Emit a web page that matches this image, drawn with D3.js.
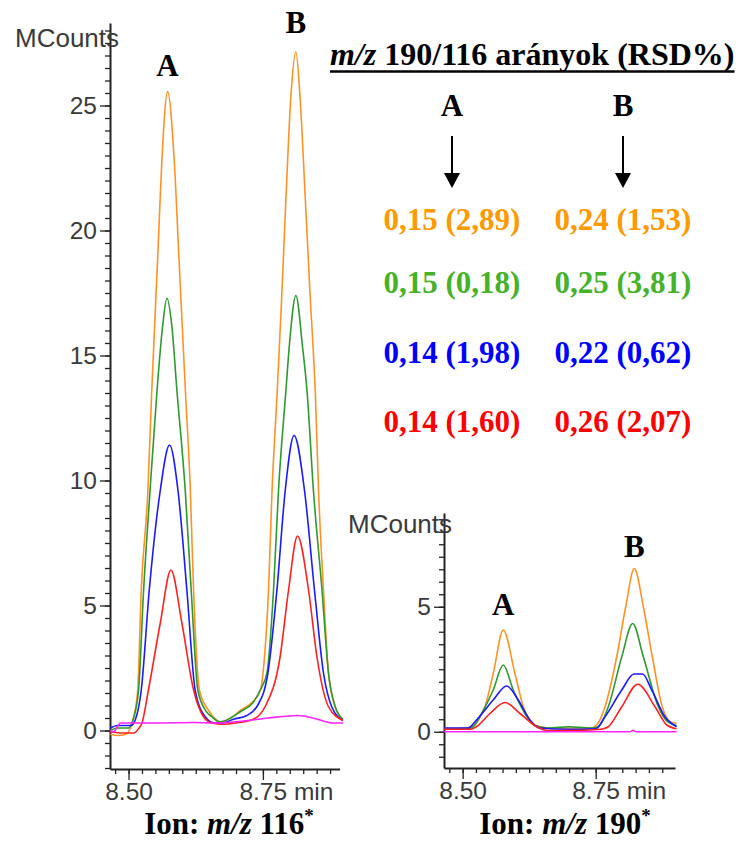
<!DOCTYPE html>
<html><head><meta charset="utf-8">
<script src="https://cdn.jsdelivr.net/npm/d3@7"></script>
<style>body{margin:0;background:#fff}svg{display:block}</style>
</head><body>
<svg id="c" width="740" height="841"></svg>
<script>
// ---------- DATA ----------
const seriesKeys = ["orange", "green", "blue", "red", "magenta"];
const lineColors = ["#FF9224", "#2E9A2E", "#1A1AFF", "#FF2020", "#FF22FF"];

// m/z 116 chromatograms: [time (min), intensity (MCounts)]
const ion116Orange = [[8.466,-0.15],[8.48,-0.2],[8.495,-0.15],[8.505,0.2],[8.509,0.5],[8.517,1.6],[8.5236,5.6],[8.536,9.6],[8.543,13.5],[8.554,18.8],[8.562,22.8],[8.5726,25.55],[8.585,22.8],[8.594,18.8],[8.606,13.5],[8.615,9.6],[8.621,5.6],[8.632,1.6],[8.649,0.8],[8.662,0.45],[8.672,0.32],[8.69,0.5],[8.708,0.8],[8.731,1.15],[8.745,1.6],[8.753,2.95],[8.7604,5.6],[8.767,9.6],[8.7765,13.5],[8.785,17.35],[8.793,21.35],[8.802,25.35],[8.8114,27.15],[8.819,25.35],[8.8287,21.35],[8.838,17.35],[8.8475,13.5],[8.8535,9.6],[8.8627,5.6],[8.872,2.3],[8.8845,0.95],[8.899,0.4]];
const ion116Green = [[8.466,0.0],[8.48,0.1],[8.50,0.1],[8.508,0.4],[8.5186,1.6],[8.528,5.6],[8.540,9.6],[8.553,13.6],[8.5633,16.15],[8.5714,17.29],[8.5807,16.15],[8.590,13.6],[8.6055,9.6],[8.6166,5.6],[8.629,1.6],[8.645,0.75],[8.655,0.55],[8.67,0.35],[8.69,0.5],[8.708,0.75],[8.731,1.1],[8.747,1.7],[8.7575,2.3],[8.7697,5.6],[8.779,9.6],[8.7928,13.6],[8.799,15.35],[8.8114,17.4],[8.8237,15.35],[8.832,13.6],[8.844,9.6],[8.86,5.6],[8.872,2.3],[8.8845,0.95],[8.899,0.45]];
const ion116Blue = [[8.466,0.1],[8.48,0.2],[8.505,0.2],[8.5125,0.42],[8.5236,1.6],[8.5385,5.6],[8.559,9.6],[8.5763,11.42],[8.592,9.6],[8.6086,5.6],[8.624,1.6],[8.6427,0.55],[8.66,0.3],[8.675,0.3],[8.695,0.45],[8.72,0.6],[8.74,1.0],[8.7593,2.3],[8.776,5.6],[8.7915,9.6],[8.808,11.8],[8.8274,9.6],[8.846,5.6],[8.8627,2.3],[8.878,0.95],[8.899,0.4]];
const ion116Red = [[8.466,-0.05],[8.49,-0.1],[8.51,-0.1],[8.518,0.05],[8.525,0.3],[8.537,1.62],[8.559,4.29],[8.5789,6.42],[8.5993,4.29],[8.621,1.62],[8.6395,0.55],[8.655,0.3],[8.675,0.25],[8.70,0.3],[8.732,0.45],[8.754,0.95],[8.782,2.95],[8.7976,5.6],[8.8144,7.78],[8.835,5.6],[8.8505,2.95],[8.872,0.95],[8.899,0.4]];
const ion116Magenta = [[8.466,0.0],[8.472,-0.05],[8.485,0.3],[8.55,0.3],[8.62,0.32],[8.66,0.3],[8.70,0.35],[8.76,0.5],[8.815,0.6],[8.85,0.46],[8.88,0.3],[8.899,0.3]];

// m/z 190 chromatograms
const ion190Orange = [[8.465,0.13],[8.50,0.15],[8.517,0.2],[8.53,0.5],[8.542,1.0],[8.5575,2.33],[8.5763,4.07],[8.5983,2.33],[8.614,1.0],[8.636,0.27],[8.66,0.15],[8.70,0.15],[8.74,0.15],[8.752,0.27],[8.7675,1.0],[8.7895,3.0],[8.8064,5.0],[8.8225,6.53],[8.8395,5.0],[8.8564,3.0],[8.875,1.0],[8.89,0.4],[8.902,0.33]];
const ion190Green = [[8.465,0.12],[8.51,0.13],[8.52,0.2],[8.5357,0.73],[8.5575,1.67],[8.5763,2.67],[8.5951,1.67],[8.617,0.73],[8.635,0.25],[8.66,0.15],[8.70,0.2],[8.74,0.15],[8.755,0.2],[8.7737,1.0],[8.799,3.0],[8.8195,4.33],[8.8395,3.0],[8.8677,1.0],[8.885,0.4],[8.902,0.25]];
const ion190Blue = [[8.465,0.15],[8.51,0.15],[8.526,0.47],[8.5575,1.27],[8.5827,1.83],[8.6045,1.27],[8.6265,0.47],[8.645,0.15],[8.70,0.1],[8.75,0.12],[8.7675,0.6],[8.799,1.67],[8.822,2.31],[8.838,2.31],[8.8553,1.67],[8.88,0.6],[8.902,0.2]];
const ion190Red = [[8.465,0.1],[8.515,0.1],[8.526,0.2],[8.5513,0.73],[8.5795,1.17],[8.6077,0.73],[8.639,0.2],[8.66,0.05],[8.70,0.05],[8.76,0.1],[8.7737,0.2],[8.799,1.0],[8.829,1.9],[8.8615,1.0],[8.8835,0.27],[8.902,0.12]];
const ion190Magenta = [[8.465,0.0],[8.815,0.0],[8.82,0.06],[8.825,0.0],[8.902,0.0]];

// axis tick labels
const xMajorTicks = [8.50, 8.75];
const xTickLabels = ["8.50", "8.75"];
const yMajor116 = [0, 5, 10, 15, 20, 25];
const yMajor190 = [0, 5];
const yUnitLabel = "MCounts";
const timeUnit = "min";

// peak labels
const peakNames = ["A", "B"];

// ratio table
const ratioTitleItalic = "m/z";
const ratioTitleRest = " 190/116 arányok (RSD%)";
const ratioColA = ["0,15 (2,89)", "0,15 (0,18)", "0,14 (1,98)", "0,14 (1,60)"];
const ratioColB = ["0,24 (1,53)", "0,25 (3,81)", "0,22 (0,62)", "0,26 (2,07)"];
const ratioColors = ["#FF9900", "#45B22A", "#0000FF", "#FF0000"];

const ionLabels = ["116", "190"];

// ---------- DRAW ----------
const svg = d3.select("#c");
const sans = "'Liberation Sans', Arial, sans-serif";
const serif = "'Liberation Serif', 'Times New Roman', serif";
const axisColor = "#222";
const labelColor = "#3a3a3a";

function drawChart(cfg) {
  const x = d3.scaleLinear().domain(cfg.xDomain).range(cfg.xRange);
  const y = d3.scaleLinear().domain(cfg.yDomain).range(cfg.yRange);
  const g = svg.append("g");

  const yMinor = d3.range(Math.ceil(cfg.yDomain[0] * 2) / 2, cfg.yDomain[1], 0.5);
  const yMinAx = g.append("g").attr("transform", `translate(${cfg.xRange[0]},0)`)
    .call(d3.axisLeft(y).tickValues(yMinor).tickSize(5).tickSizeOuter(0).tickFormat(""));
  yMinAx.select(".domain").remove();
  const yMajAx = g.append("g").attr("transform", `translate(${cfg.xRange[0]},0)`)
    .call(d3.axisLeft(y).tickValues(cfg.yMajor).tickSize(10).tickSizeOuter(0).tickPadding(3).tickFormat(d3.format("d")));
  const xMinor = d3.range(8.475, 8.89, 0.025);
  const xMinAx = g.append("g").attr("transform", `translate(0,${cfg.yRange[0]})`)
    .call(d3.axisBottom(x).tickValues(xMinor).tickSize(5).tickSizeOuter(0).tickFormat(""));
  xMinAx.select(".domain").remove();
  const xMajAx = g.append("g").attr("transform", `translate(0,${cfg.yRange[0]})`)
    .call(d3.axisBottom(x).tickValues(xMajorTicks).tickSize(11).tickSizeOuter(0).tickPadding(3)
      .tickFormat((d, i) => xTickLabels[i]));

  [yMinAx, yMajAx, xMinAx, xMajAx].forEach(a => {
    a.selectAll("line").attr("stroke", axisColor).attr("stroke-width", 1.3);
    a.select(".domain").attr("stroke", axisColor).attr("stroke-width", 2);
    a.selectAll("text").attr("font-family", sans).attr("font-size", 24.5).attr("fill", labelColor);
  });
  const lastTick = xMajAx.selectAll(".tick").filter((d) => d === 8.75);
  lastTick.select("text").attr("text-anchor", "start").attr("x", -24)
    .append("tspan").text(" " + timeUnit);

  g.append("text").attr("x", cfg.unitPos[0]).attr("y", cfg.unitPos[1])
    .attr("font-family", sans).attr("font-size", 26).attr("fill", labelColor).text(yUnitLabel);

  const line = d3.line().x(d => x(d[0])).y(d => y(d[1])).curve(d3.curveMonotoneX);
  cfg.series.forEach((s, i) => {
    g.append("path").datum(s).attr("d", line).attr("fill", "none")
      .attr("stroke", lineColors[i]).attr("stroke-width", 1.6).attr("stroke-linejoin", "round");
  });

  cfg.peaks.forEach((p, i) => {
    g.append("text").attr("x", x(p[0])).attr("y", y(p[1])).attr("text-anchor", "middle")
      .attr("font-family", serif).attr("font-weight", "bold").attr("font-size", 31)
      .attr("fill", "#000").text(peakNames[i]);
  });

  const t = g.append("text").attr("x", cfg.ionPos[0]).attr("y", cfg.ionPos[1]).attr("text-anchor", "middle")
    .attr("font-family", serif).attr("font-weight", "bold").attr("font-size", 31).attr("fill", "#000");
  t.append("tspan").text("Ion: ");
  t.append("tspan").attr("font-style", "italic").text("m/z");
  t.append("tspan").text(" " + cfg.ion);
  t.append("tspan").attr("font-size", 19).attr("dy", -12).text("*");
}

drawChart({
  xDomain: [8.4655, 8.8925], xRange: [110, 339.5],
  yDomain: [-1.54, 28.3], yRange: [769, 23],
  yMajor: yMajor116,
  series: [ion116Orange, ion116Green, ion116Blue, ion116Red, ion116Magenta],
  peaks: [[8.5726, 26.2], [8.8114, 27.9]],
  unitPos: [15, 47],
  ionPos: [229, 834], ion: ionLabels[0]
});
drawChart({
  xDomain: [8.465, 8.899], xRange: [444, 675],
  yDomain: [-1.45, 8.75], yRange: [768, 513],
  yMajor: yMajor190,
  series: [ion190Orange, ion190Green, ion190Blue, ion190Red, ion190Magenta],
  peaks: [[8.5763, 4.67], [8.8225, 7.0]],
  unitPos: [348, 533],
  ionPos: [565, 834], ion: ionLabels[1]
});

// ratio table
const title = svg.append("text").attr("x", 330).attr("y", 65)
  .attr("font-family", serif).attr("font-weight", "bold").attr("font-size", 32).attr("fill", "#000");
title.append("tspan").attr("font-style", "italic").text(ratioTitleItalic);
title.append("tspan").text(ratioTitleRest);
const tb = title.node().getBBox();
svg.append("line").attr("x1", tb.x).attr("x2", tb.x + tb.width).attr("y1", 71.5).attr("y2", 71.5)
  .attr("stroke", "#000").attr("stroke-width", 2.6);

const colX = [452, 623];
peakNames.forEach((n, i) => {
  svg.append("text").attr("x", colX[i]).attr("y", 116).attr("text-anchor", "middle")
    .attr("font-family", serif).attr("font-weight", "bold").attr("font-size", 31).text(n);
  svg.append("line").attr("x1", colX[i]).attr("x2", colX[i]).attr("y1", 136).attr("y2", 175)
    .attr("stroke", "#000").attr("stroke-width", 2);
  svg.append("path").attr("d", `M${colX[i] - 8},173 L${colX[i] + 8},173 L${colX[i]},188 Z`).attr("fill", "#000");
});
const rowY = [230, 293, 363, 432];
[ratioColA, ratioColB].forEach((col, c) => {
  col.forEach((s, r) => {
    svg.append("text").attr("x", colX[c]).attr("y", rowY[r]).attr("text-anchor", "middle")
      .attr("font-family", serif).attr("font-weight", "bold").attr("font-size", 31)
      .attr("fill", ratioColors[r]).text(s);
  });
});
</script>
</body></html>
